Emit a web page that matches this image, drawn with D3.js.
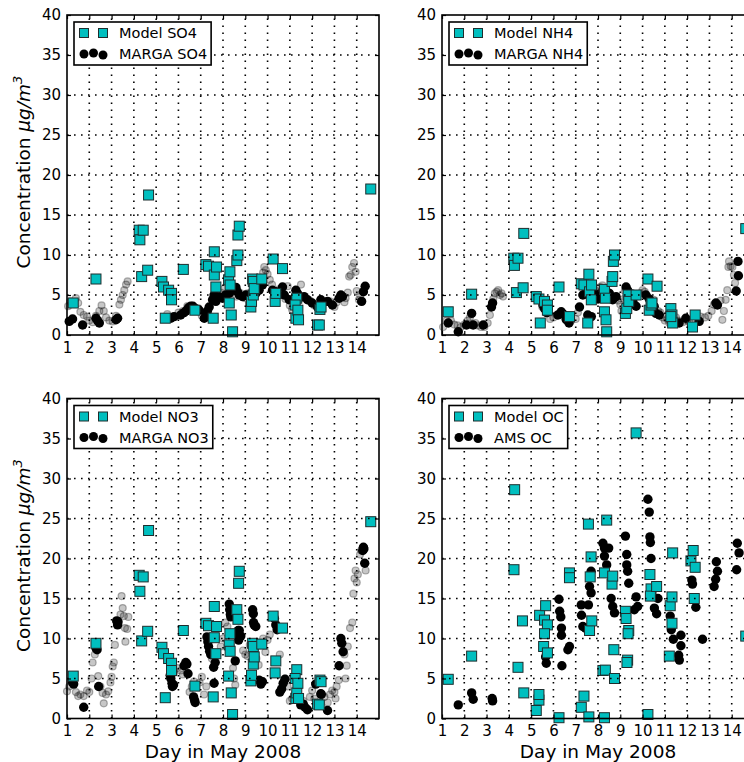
<!DOCTYPE html>
<html>
<head>
<meta charset="utf-8">
<script src="https://cdn.jsdelivr.net/npm/d3@7"></script>
<style>
body { margin: 0; background: #fff; }
svg { display: block; }
text { font-family: "DejaVu Sans", sans-serif; }
</style>
</head>
<body>
<script>
// values: [day, concentration]

var dayTicks = [1, 2, 3, 4, 5, 6, 7, 8, 9, 10, 11, 12, 13, 14];
var concTicks = [0, 5, 10, 15, 20, 25, 30, 35, 40];

var modelNames = ["Model SO4", "Model NH4", "Model NO3", "Model OC"];
var obsNames = ["MARGA SO4", "MARGA NH4", "MARGA NO3", "AMS OC"];

var so4Model = [[1.28,4.0],[2.3,7.0],[4.24,13.1],[4.27,11.9],[4.42,13.1],[4.35,7.3],[4.62,8.1],[4.66,17.5],
  [5.26,6.7],[5.33,6.0],[5.41,2.1],[5.56,5.6],[5.69,5.2],[5.69,4.4],[6.22,8.2],[6.74,3.1],[7.23,8.8],
  [7.35,8.6],[7.56,2.1],[7.61,10.4],[7.61,7.5],[7.71,8.5],[7.68,6.0],[8.25,6.9],[8.28,4.0],[8.31,7.9],
  [8.32,6.25],[8.37,2.5],[8.43,0.4],[8.62,9.3],[8.67,10.0],[8.67,12.5],[8.73,13.6],[9.25,3.5],[9.28,4.2],
  [9.33,7.0],[9.36,6.7],[9.36,5.0],[9.4,5.8],[9.74,7.0],[10.25,9.5],[10.34,4.2],[10.37,5.2],[10.67,8.3],
  [11.31,4.6],[11.24,3.75],[11.27,2.1],[11.36,3.1],[11.39,1.9],[12.24,1.25],[12.32,1.25],[12.35,3.2],
  [12.4,3.5],[14.63,18.25]];

var so4Obs = [[1.1,1.7],[1.25,2.0],[1.7,1.25],[2.3,2.1],[2.37,1.8],[2.45,1.5],[3.2,1.9],[3.27,2.1],
  [5.66,2.1],[5.8,2.3],[6.1,2.5],[6.25,2.8],[6.34,3.0],[6.45,3.4],[6.55,3.6],[6.65,3.6],[6.78,3.3],
  [6.93,3.1],[7.16,2.1],[7.23,2.5],[7.3,3.0],[7.38,3.5],[7.53,4.4],[7.6,5.0],[7.68,4.2],[7.75,4.6],
  [7.83,4.8],[7.98,4.6],[8.13,5.0],[8.28,5.2],[8.43,5.6],[8.58,5.95],[8.65,5.4],[8.73,5.0],[8.88,4.8],
  [9.03,5.0],[9.18,4.8],[9.47,5.2],[9.62,5.6],[9.77,6.25],[10.22,5.6],[10.37,5.4],[10.45,5.1],[10.67,6.0],
  [10.75,5.0],[10.97,4.4],[11.27,5.6],[11.34,5.2],[11.42,4.6],[11.64,4.8],[11.79,4.4],[12.0,4.0],
  [12.24,3.5],[12.39,4.4],[12.69,4.2],[12.91,3.75],[13.21,4.6],[13.29,5.0],[13.36,4.8],[14.22,4.2],
  [14.3,5.4],[14.38,6.1]];

var so4Hourly = [[1.05,3.6],[1.15,4.2],[1.4,4.6],[1.5,4.0],[1.6,2.9],[1.75,2.5],[1.9,2.3],[2.0,1.8],
  [2.15,1.6],[2.3,2.4],[2.45,3.0],[2.55,3.7],[2.65,3.0],[2.75,2.2],[2.9,1.8],[3.05,1.7],[3.2,2.4],
  [3.35,3.8],[3.42,4.4],[3.5,5.0],[3.57,5.6],[3.65,6.3],[3.72,6.7],[5.5,2.6],[5.9,2.3],[6.0,2.8],
  [6.2,3.0],[6.4,3.6],[6.6,3.5],[6.9,3.2],[7.05,2.4],[7.2,2.8],[7.7,4.5],[7.9,5.3],[8.05,5.8],[8.2,5.2],
  [8.45,5.8],[8.6,4.8],[8.8,5.2],[9.0,4.6],[9.1,5.2],[9.45,5.6],[9.55,6.0],[9.6,6.5],[9.7,7.0],[9.8,7.8],
  [9.85,8.5],[9.92,8.1],[10.0,7.6],[10.1,6.9],[10.2,6.3],[10.5,5.7],[10.6,5.0],[10.8,4.5],[10.9,6.1],
  [11.0,3.7],[11.1,3.2],[11.2,3.5],[11.5,6.3],[11.6,4.8],[11.9,4.3],[12.1,3.7],[12.3,3.4],[12.5,4.0],
  [12.8,4.2],[13.0,3.5],[13.1,4.1],[13.45,4.1],[13.5,4.6],[13.6,5.3],[13.66,7.3],[13.73,7.5],[13.8,8.5],
  [13.88,9.0],[13.95,7.9],[14.0,5.5],[14.1,4.4],[14.15,5.0]];

var nh4Model = [[1.28,2.9],[2.33,5.1],[4.22,9.6],[4.25,8.7],[4.41,9.6],[4.34,5.3],[4.64,5.9],[4.67,12.7],
  [5.23,4.8],[5.35,4.5],[5.41,1.5],[5.6,4.2],[5.73,3.75],[5.73,3.1],[6.25,6.0],[6.72,2.3],[7.25,6.4],
  [7.37,6.25],[7.54,1.5],[7.59,7.6],[7.62,5.4],[7.71,6.25],[7.7,4.4],[8.29,5.7],[8.29,2.9],[8.33,4.6],
  [8.36,1.9],[8.39,0.4],[8.63,6.7],[8.66,7.3],[8.69,9.2],[8.74,10.0],[9.23,2.7],[9.29,3.3],[9.35,5.0],
  [9.38,4.2],[9.71,5.0],[10.24,7.0],[10.3,3.1],[10.38,3.75],[10.42,4.0],[10.65,6.1],[11.27,3.3],
  [11.32,2.5],[11.35,1.5],[11.27,2.3],[12.24,1.0],[12.36,2.5],[14.63,13.3]];

var nh4Obs = [[1.28,1.5],[1.73,0.4],[2.1,1.25],[2.33,2.7],[2.4,1.25],[2.85,1.25],[3.22,3.5],[3.27,4.0],
  [5.38,1.5],[5.53,3.75],[5.6,3.3],[5.7,2.8],[6.2,2.5],[6.35,2.9],[6.45,2.6],[6.58,1.9],[6.7,1.5],
  [7.17,3.5],[7.32,5.0],[7.44,5.2],[7.54,2.5],[7.7,2.3],[7.84,5.2],[8.0,4.5],[8.07,4.8],[8.22,5.6],
  [8.4,5.0],[8.51,5.2],[8.66,4.4],[8.81,4.8],[9.26,6.0],[9.33,5.6],[9.45,4.6],[9.56,4.2],[9.71,3.6],
  [10.15,5.0],[10.3,4.5],[10.45,3.9],[10.52,3.6],[10.6,2.7],[10.75,2.5],[11.64,1.5],[11.94,2.1],
  [12.54,1.7],[13.29,4.0],[13.36,3.75],[14.2,5.5],[14.3,7.4],[14.28,9.2]];

var nh4Hourly = [[1.05,1.0],[1.2,1.8],[1.4,1.8],[1.55,1.3],[1.7,1.2],[1.85,1.0],[2.0,1.3],[2.15,1.8],
  [2.25,2.2],[2.5,1.5],[2.6,1.2],[2.75,1.0],[2.9,1.0],[3.05,1.5],[3.15,2.5],[3.3,4.5],[3.37,5.2],
  [3.45,5.4],[3.52,5.6],[3.6,5.0],[3.67,5.2],[3.74,4.8],[5.5,3.5],[5.85,2.0],[6.0,2.2],[6.15,2.5],
  [6.4,2.6],[6.5,2.2],[6.8,1.8],[7.0,2.0],[7.1,2.8],[7.8,5.0],[7.95,5.5],[8.0,4.9],[8.1,6.0],[8.2,6.2],
  [8.45,5.4],[8.6,4.8],[8.9,4.3],[9.0,3.8],[9.05,3.0],[9.15,4.5],[9.2,5.5],[9.45,4.6],[9.55,5.2],
  [9.9,5.2],[10.0,5.6],[10.1,5.4],[10.2,4.8],[10.5,4.4],[10.7,3.0],[10.8,2.8],[10.9,2.2],[11.0,1.8],
  [11.1,2.0],[11.2,1.5],[11.5,2.2],[11.6,1.8],[11.8,1.6],[12.0,1.8],[12.1,1.6],[12.5,1.8],[12.6,2.3],
  [12.8,2.2],[12.95,2.4],[13.1,3.0],[13.2,3.8],[13.5,4.3],[13.58,1.9],[13.65,3.0],[13.73,4.4],
  [13.8,5.6],[13.85,8.5],[13.88,9.2],[13.95,8.6],[14.03,8.5],[14.1,7.5],[14.15,6.5]];

var no3Model = [[1.28,5.3],[2.3,9.4],[4.24,17.9],[4.27,15.9],[4.42,17.7],[4.35,9.7],[4.62,10.9],[4.66,23.5],
  [5.26,8.9],[5.33,8.1],[5.41,2.6],[5.56,7.5],[5.69,6.9],[5.69,6.0],[6.22,11.0],[6.74,4.05],[7.23,11.9],
  [7.35,11.6],[7.56,2.7],[7.61,14.0],[7.61,10.1],[7.71,11.5],[7.68,8.1],[8.25,5.3],[8.28,9.2],
  [8.31,10.6],[8.32,8.4],[8.37,3.2],[8.43,0.5],[8.62,13.6],[8.67,12.4],[8.7,16.9],[8.73,18.4],
  [9.25,4.7],[9.28,5.4],[9.33,9.4],[9.36,6.8],[9.36,9.0],[9.4,7.7],[9.74,9.3],[10.25,12.8],[10.34,5.7],
  [10.37,7.2],[10.67,11.3],[11.31,6.1],[11.24,5.0],[11.27,2.5],[11.31,3.2],[11.36,4.4],[11.39,2.5],
  [12.24,1.8],[12.32,1.7],[12.35,4.8],[12.4,4.6],[14.63,24.6]];

var no3Obs = [[1.25,4.5],[1.3,4.3],[1.75,1.4],[2.3,8.8],[2.35,8.6],[2.42,4.0],[3.23,12.2],[3.27,11.7],
  [3.29,12.1],[5.63,5.4],[5.66,5.0],[5.71,4.4],[5.73,4.0],[5.78,4.2],[6.25,6.6],[6.33,7.0],[6.38,6.8],
  [6.43,5.6],[6.68,2.7],[6.72,2.3],[6.75,2.0],[7.28,10.2],[7.32,9.6],[7.35,9.0],[7.4,8.4],[7.45,8.0],
  [7.58,6.4],[7.6,4.4],[7.65,7.0],[8.28,14.3],[8.3,13.6],[8.33,13.0],[8.35,12.7],[8.55,7.2],[8.65,10.4],
  [8.68,11.0],[8.7,9.8],[8.73,11.0],[8.8,10.3],[9.33,13.6],[9.36,13.1],[9.37,12.0],[9.4,11.7],
  [9.47,11.5],[9.62,4.8],[9.7,4.3],[9.77,4.6],[10.31,12.5],[10.37,11.7],[10.43,11.1],[10.55,3.3],
  [10.63,3.7],[10.7,4.4],[10.78,4.9],[11.49,1.7],[11.6,1.8],[11.68,1.4],[11.79,1.1],[12.16,4.3],
  [12.39,3.1],[12.41,3.0],[12.69,1.0],[13.21,6.6],[13.29,10.0],[13.33,9.4],[13.39,8.35],[14.27,21.0],
  [14.3,21.4],[14.32,21.2],[14.36,19.4]];

var no3Hourly = [[1.0,3.4],[1.1,4.0],[1.2,4.5],[1.4,3.3],[1.5,2.8],[1.6,3.0],[1.75,2.8],[1.9,3.5],
  [2.0,3.3],[2.1,5.0],[2.15,7.0],[2.25,8.0],[2.4,5.3],[2.5,4.0],[2.6,3.2],[2.65,1.9],[2.75,3.0],
  [2.85,3.4],[2.95,4.5],[3.0,5.2],[3.05,6.5],[3.1,7.0],[3.15,9.2],[3.3,11.8],[3.4,13.0],[3.45,15.3],
  [3.5,13.8],[3.55,12.8],[3.6,11.3],[3.62,9.6],[3.7,11.2],[3.75,12.7],[5.8,5.7],[5.95,6.3],[6.1,6.0],
  [6.2,5.5],[6.5,3.3],[6.6,4.0],[6.7,4.6],[6.95,4.5],[7.05,5.2],[7.15,3.0],[7.25,4.0],[7.5,7.5],
  [7.75,8.0],[7.9,9.0],[8.0,10.0],[8.1,12.0],[8.2,11.5],[8.45,6.3],[8.5,5.0],[8.55,4.2],[8.9,8.5],
  [9.0,8.0],[9.1,7.8],[9.2,9.2],[9.5,7.5],[9.6,6.7],[9.8,10.0],[9.9,8.3],[10.0,9.8],[10.1,10.5],
  [10.55,8.0],[10.8,5.0],[10.9,4.0],[11.0,2.2],[11.1,2.5],[11.2,3.0],[11.6,2.2],[11.9,2.7],[12.0,3.5],
  [12.1,2.5],[12.55,2.7],[12.7,2.0],[12.8,3.0],[12.9,3.5],[13.0,3.3],[13.05,2.5],[13.1,4.0],[13.2,4.8],
  [13.45,8.0],[13.55,6.6],[13.5,5.0],[13.6,9.0],[13.7,11.3],[13.8,12.0],[13.85,15.6],[13.9,17.5],
  [13.95,18.5],[14.0,17.0],[14.05,18.0],[14.15,20.5],[14.2,21.0],[14.4,18.5]];

var ocModel = [[1.28,4.9],[2.33,7.8],[4.26,28.6],[4.23,18.6],[4.41,6.4],[4.61,12.2],[4.67,3.2],[5.23,1.0],
  [5.35,2.3],[5.35,3.0],[5.38,12.9],[5.6,12.3],[5.65,14.1],[5.73,11.7],[5.6,10.6],[5.56,9.0],[5.73,8.2],
  [6.25,0.1],[6.72,18.2],[6.72,17.6],[7.25,1.4],[7.37,2.8],[7.57,24.3],[7.59,0.2],[7.62,11.0],
  [7.65,17.7],[7.69,20.2],[7.72,12.2],[8.22,6.0],[8.29,18.2],[8.29,0.1],[8.33,6.05],[8.39,24.8],
  [8.63,16.8],[8.66,17.8],[8.71,8.6],[8.74,5.0],[9.23,13.4],[9.26,12.5],[9.33,7.3],[9.3,7.0],
  [9.38,11.0],[9.35,10.6],[9.71,35.7],[10.24,0.5],[10.33,18.0],[10.38,16.2],[10.35,15.3],[10.63,16.5],
  [11.24,14.1],[11.32,15.2],[11.35,20.7],[11.32,11.9],[11.2,7.8],[12.17,19.7],[12.27,21.0],
  [12.36,18.9],[12.32,15.0],[14.63,10.3]];

var ocObs = [[1.73,1.7],[2.33,3.2],[2.4,2.4],[3.25,2.5],[3.27,2.2],[5.65,7.7],[5.68,6.9],[6.25,14.9],
  [6.28,13.4],[6.33,12.7],[6.36,11.3],[6.36,10.4],[6.38,6.6],[6.72,9.0],[6.65,8.6],[7.25,14.2],
  [7.26,12.9],[7.32,11.5],[7.44,11.3],[7.57,14.2],[7.62,16.5],[7.69,15.7],[7.69,18.4],[8.22,21.9],
  [8.29,21.3],[8.29,20.3],[8.39,19.2],[8.48,21.3],[8.59,15.0],[8.66,14.0],[8.74,13.2],[9.23,22.8],
  [9.29,20.5],[9.29,19.2],[9.33,18.4],[9.38,16.9],[9.63,13.6],[9.71,15.2],[9.78,14.0],[10.24,27.4],
  [10.3,25.8],[10.33,22.7],[10.35,22.0],[10.38,20.0],[10.53,13.8],[10.63,13.1],[10.69,15.0],
  [11.24,12.8],[11.29,11.1],[11.38,9.9],[11.62,7.9],[11.65,7.3],[11.72,9.1],[11.72,10.4],[12.21,17.3],
  [12.24,16.8],[12.39,13.9],[12.69,9.9],[13.21,16.5],[13.28,17.4],[13.31,19.6],[13.36,18.4],
  [14.22,18.6],[14.25,21.9],[14.33,20.7]];

var width = 744;
var height = 762;
var axW = 312;
var axH = 320;

var body = d3.select("body");
var graphics = body.append("svg").attr("width", width).attr("height", height);

var panels = [
  {left: 67,  top: 15,    model: so4Model, obs: so4Obs, hourly: so4Hourly, i: 0, ylab: true,  xlab: false},
  {left: 442, top: 15,    model: nh4Model, obs: nh4Obs, hourly: nh4Hourly, i: 1, ylab: false, xlab: false},
  {left: 67,  top: 398.5, model: no3Model, obs: no3Obs, hourly: no3Hourly, i: 2, ylab: true,  xlab: true},
  {left: 442, top: 398.5, model: ocModel,  obs: ocObs,  hourly: [],        i: 3, ylab: false, xlab: true}
];

var cyan = "#00bfbf";

function drawPanel(p) {
  var x = d3.scaleLinear().domain([1, 15]).range([p.left, p.left + axW]);
  var y = d3.scaleLinear().domain([0, 40]).range([p.top + axH, p.top]);
  var g = graphics.append("g");

  // hourly (light) observations
  g.selectAll(".hour").data(p.hourly).enter().append("circle")
    .attr("cx", function(d) { return x(d[0]); })
    .attr("cy", function(d) { return y(d[1]); })
    .attr("r", 3.5)
    .attr("fill", "#000").attr("fill-opacity", 0.22)
    .attr("stroke", "#000").attr("stroke-opacity", 0.3).attr("stroke-width", 1.2);

  // observations
  g.selectAll(".obs").data(p.obs).enter().append("circle")
    .attr("cx", function(d) { return x(d[0]); })
    .attr("cy", function(d) { return y(d[1]); })
    .attr("r", 4.7)
    .attr("fill", "#000");

  // model
  g.selectAll(".mod").data(p.model).enter().append("rect")
    .attr("x", function(d) { return x(d[0]) - 5; })
    .attr("y", function(d) { return y(d[1]) - 5; })
    .attr("width", 10).attr("height", 10)
    .attr("fill", cyan).attr("stroke", "#1e2e2e").attr("stroke-width", 1);

  // dotted grid on top
  g.selectAll(".vg").data(dayTicks.slice(1)).enter().append("line")
    .attr("x1", function(d) { return x(d); }).attr("x2", function(d) { return x(d); })
    .attr("y1", y(0)).attr("y2", y(40))
    .attr("stroke", "#000").attr("stroke-width", 1.6).attr("stroke-dasharray", "1.6,5.4");
  g.selectAll(".hg").data(concTicks.slice(1, -1)).enter().append("line")
    .attr("x1", x(1)).attr("x2", x(15))
    .attr("y1", function(d) { return y(d); }).attr("y2", function(d) { return y(d); })
    .attr("stroke", "#000").attr("stroke-width", 1.6).attr("stroke-dasharray", "1.6,5.4");

  // axes, ticks point inward
  var ax = g.append("g").attr("transform", "translate(0," + y(0) + ")")
    .call(d3.axisBottom(x).tickValues(dayTicks).tickSizeInner(-4).tickSizeOuter(0).tickPadding(7));
  var at = g.append("g").attr("transform", "translate(0," + y(40) + ")")
    .call(d3.axisTop(x).tickValues(dayTicks).tickSizeInner(-4).tickSizeOuter(0).tickFormat(""));
  var ay = g.append("g").attr("transform", "translate(" + x(1) + ",0)")
    .call(d3.axisLeft(y).tickValues(concTicks).tickSizeInner(-4).tickSizeOuter(0).tickPadding(6));
  var ar = g.append("g").attr("transform", "translate(" + x(15) + ",0)")
    .call(d3.axisRight(y).tickValues(concTicks).tickSizeInner(-4).tickSizeOuter(0).tickFormat(""));
  [ax, at, ay, ar].forEach(function(a) {
    a.select(".domain").remove();
    a.selectAll(".tick line").attr("stroke", "#000").attr("stroke-width", 1.2);
    a.selectAll("text").attr("font-size", 15).attr("fill", "#000")
      .attr("font-family", "'DejaVu Sans', sans-serif");
  });

  g.append("rect")
    .attr("x", x(1)).attr("y", y(40))
    .attr("width", axW).attr("height", axH)
    .attr("fill", "none").attr("stroke", "#000").attr("stroke-width", 1.6);

  // legend
  var lx = p.left + 7, ly = p.top + 7;
  var lg = g.append("g");
  var box = lg.append("rect").attr("x", lx).attr("y", ly).attr("height", 43)
    .attr("fill", "#fff").attr("stroke", "#000").attr("stroke-width", 1.6);
  [10, 29].forEach(function(o) {
    lg.append("rect").attr("x", lx + o - 4.5).attr("y", ly + 11 - 4.5)
      .attr("width", 9).attr("height", 9)
      .attr("fill", cyan).attr("stroke", "#1e2e2e").attr("stroke-width", 1);
  });
  [[10, 0], [19.5, -1], [29, 1]].forEach(function(o) {
    lg.append("circle").attr("cx", lx + o[0]).attr("cy", ly + 32 + o[1]).attr("r", 4.5).attr("fill", "#000");
  });
  var t1 = lg.append("text").attr("x", lx + 45).attr("y", ly + 16).attr("font-size", 14.5).text(modelNames[p.i]);
  var t2 = lg.append("text").attr("x", lx + 45).attr("y", ly + 37).attr("font-size", 14.5).text(obsNames[p.i]);
  var tw = Math.max(t1.node().getComputedTextLength(), t2.node().getComputedTextLength());
  box.attr("width", 45 + tw + 4);

  if (p.ylab) {
    var yl = g.append("text")
      .attr("transform", "translate(30," + (p.top + axH / 2 - 3) + ") rotate(-90)")
      .attr("text-anchor", "middle").attr("font-size", 18.5);
    yl.append("tspan").text("Concentration ");
    yl.append("tspan").attr("font-style", "italic").text("\u03bcg/m");
    yl.append("tspan").attr("font-style", "italic").attr("font-size", 13).attr("dy", -8).text("3");
  }
  if (p.xlab) {
    g.append("text").attr("x", p.left + axW / 2).attr("y", 758)
      .attr("text-anchor", "middle").attr("font-size", 18.5).text("Day in May 2008");
  }
}

panels.forEach(drawPanel);
</script>
</body>
</html>
